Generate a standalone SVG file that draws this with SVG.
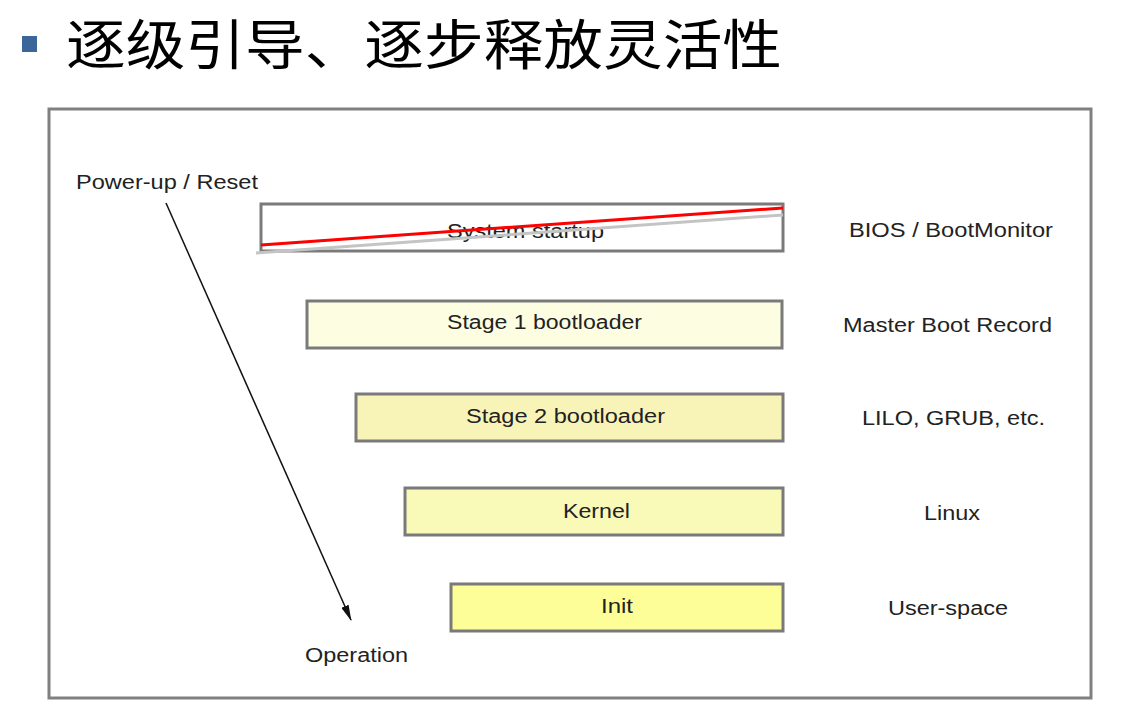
<svg xmlns="http://www.w3.org/2000/svg" width="1148" height="720" viewBox="0 0 1148 720">
<defs>
<style>
.t{font-family:"Liberation Sans",Arial,sans-serif;font-size:20px;fill:#222}
.box{stroke:#7a7a7a;stroke-width:3}
</style>
<marker id="ah" markerWidth="16" markerHeight="8" refX="15" refY="4" orient="auto" markerUnits="userSpaceOnUse">
<path d="M0,0 L16,4 L0,8 Z" fill="#111"/>
</marker>
</defs>
<rect width="1148" height="720" fill="#fff"/>
<g id="title">
<rect x="22" y="36" width="15" height="16" fill="#3a6699"/>
<text x="66" y="65" font-family="'Noto Sans CJK SC',sans-serif" font-size="54" fill="#000" textLength="716" lengthAdjust="spacingAndGlyphs">逐级引导、逐步释放灵活性</text>
</g>
<rect id="frame" x="49" y="109" width="1042" height="589" fill="none" stroke="#808080" stroke-width="3"/>
<g id="labels">
<text class="t" x="76" y="189" textLength="182" lengthAdjust="spacingAndGlyphs">Power-up / Reset</text>
<text class="t" x="305" y="662" textLength="103" lengthAdjust="spacingAndGlyphs">Operation</text>
<text class="t" x="849" y="237" textLength="204" lengthAdjust="spacingAndGlyphs">BIOS / BootMonitor</text>
<text class="t" x="843" y="332" textLength="209" lengthAdjust="spacingAndGlyphs">Master Boot Record</text>
<text class="t" x="862" y="425" textLength="183" lengthAdjust="spacingAndGlyphs">LILO, GRUB, etc.</text>
<text class="t" x="924" y="520" textLength="56" lengthAdjust="spacingAndGlyphs">Linux</text>
<text class="t" x="888" y="615" textLength="120" lengthAdjust="spacingAndGlyphs">User-space</text>
</g>
<g id="system-startup">
<rect class="box" x="261" y="204" width="522" height="47" fill="#fff"/>
<text class="t" x="447" y="238" textLength="157" lengthAdjust="spacingAndGlyphs">System startup</text>
<line x1="256" y1="253" x2="783" y2="215" stroke="#c4c4c4" stroke-width="3"/>
<line x1="261" y1="245" x2="783" y2="208" stroke="#ff0000" stroke-width="3"/>
</g>
<g id="stage1">
<rect class="box" x="307" y="301" width="475" height="47" fill="#fdfde2"/>
<text class="t" x="447" y="329" textLength="195" lengthAdjust="spacingAndGlyphs">Stage 1 bootloader</text>
</g>
<g id="stage2">
<rect class="box" x="356" y="394" width="427" height="47" fill="#f8f4b8"/>
<text class="t" x="466" y="423" textLength="199" lengthAdjust="spacingAndGlyphs">Stage 2 bootloader</text>
</g>
<g id="kernel">
<rect class="box" x="405" y="488" width="378" height="47" fill="#f9f9b8"/>
<text class="t" x="563" y="518" textLength="67" lengthAdjust="spacingAndGlyphs">Kernel</text>
</g>
<g id="init">
<rect class="box" x="451" y="584" width="332" height="47" fill="#fefe99"/>
<text class="t" x="601" y="613" textLength="32" lengthAdjust="spacingAndGlyphs">Init</text>
</g>
<g id="connectors">
<line x1="166" y1="203" x2="351" y2="620" stroke="#111" stroke-width="1.5" marker-end="url(#ah)"/>
</g>
</svg>
